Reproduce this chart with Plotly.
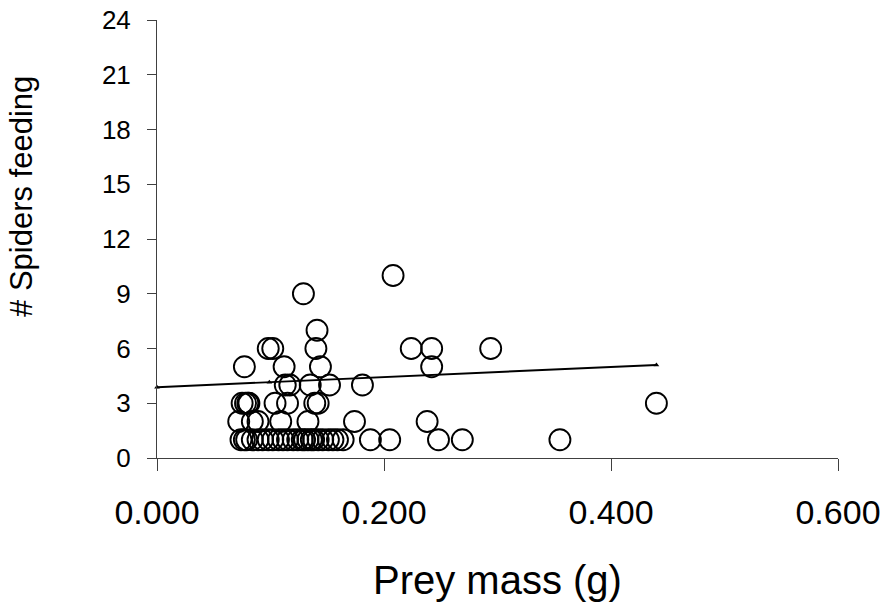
import plotly.graph_objects as go

# Prey mass (g) and number of spiders feeding
prey_mass = [
    # y = 1
    0.074, 0.077, 0.079, 0.084, 0.089, 0.093, 0.098, 0.102, 0.107, 0.111, 0.115,
    0.120, 0.124, 0.128, 0.130, 0.133, 0.136, 0.138, 0.142, 0.146, 0.151, 0.155,
    0.159, 0.164, 0.188, 0.205, 0.248, 0.269, 0.355,
    # y = 2
    0.072, 0.084, 0.089, 0.109, 0.133, 0.174, 0.238,
    # y = 3
    0.075, 0.078, 0.080, 0.081, 0.104, 0.115, 0.139, 0.142, 0.440,
    # y = 4
    0.113, 0.117, 0.135, 0.152, 0.181,
    # y = 5
    0.077, 0.112, 0.144, 0.242,
    # y = 6
    0.098, 0.102, 0.140, 0.224, 0.242, 0.294,
    # y = 7, 9, 10
    0.141, 0.129, 0.208,
]
spiders = (
    [1] * 29
    + [2] * 7
    + [3] * 9
    + [4] * 5
    + [5] * 4
    + [6] * 6
    + [7, 9, 10]
)

# Trend line as drawn in the picture
trend_x = [0.0, 0.099, 0.44]
trend_y = [3.88, 4.15, 5.10]

x_ticks = [0.0, 0.2, 0.4, 0.6]
y_ticks = [0, 3, 6, 9, 12, 15, 18, 21, 24]

FONT = "Liberation Sans, Arial, sans-serif"
AXIS_COLOR = "#404040"

fig = go.Figure()
fig.add_trace(go.Scatter(
    x=prey_mass, y=spiders, mode="markers",
    marker=dict(symbol="circle-open", size=21, color="black", line=dict(width=1.9)),
    showlegend=False, cliponaxis=False,
))
fig.add_trace(go.Scatter(
    x=trend_x, y=trend_y, mode="lines+markers",
    line=dict(color="black", width=1.9),
    marker=dict(symbol="triangle-up", size=5, color="black"),
    showlegend=False, cliponaxis=False,
))

fig.update_layout(
    width=888, height=604,
    margin=dict(l=157, r=50, t=20, b=146, autoexpand=False),
    paper_bgcolor="white", plot_bgcolor="white",
    font=dict(family=FONT, color="black"),
    xaxis=dict(
        range=[0, 0.6], tickvals=x_ticks, tickformat=".3f",
        showgrid=False, zeroline=False, automargin=False,
        showline=True, linecolor=AXIS_COLOR, linewidth=1,
        ticks="outside", ticklen=12, tickcolor=AXIS_COLOR,
        tickfont=dict(size=34, family=FONT, color="black"),
        ticklabelstandoff=12,
    ),
    yaxis=dict(
        range=[0, 24], tickvals=y_ticks,
        showgrid=False, zeroline=False, automargin=False,
        showline=True, linecolor=AXIS_COLOR, linewidth=1,
        ticks="outside", ticklen=9, tickcolor=AXIS_COLOR,
        tickfont=dict(size=26, family=FONT, color="black"),
        ticklabelstandoff=11,
    ),
    annotations=[
        dict(text="Prey mass (g)", xref="paper", yref="paper", x=0.5, y=0,
             xanchor="center", yanchor="middle", yshift=-122, showarrow=False,
             font=dict(size=40, family=FONT, color="black")),
        dict(text="# Spiders feeding", xref="paper", yref="paper", x=0, y=0.596,
             xanchor="center", yanchor="middle", xshift=-135, textangle=-90,
             showarrow=False, font=dict(size=31, family=FONT, color="black")),
    ],
)

fig.write_html(
    "out.html",
    config={"displayModeBar": False},
    post_script="document.body.style.margin='0';document.body.style.overflow='hidden';",
)
